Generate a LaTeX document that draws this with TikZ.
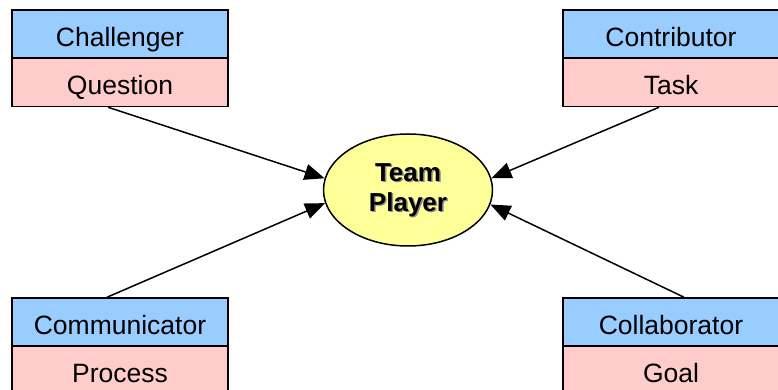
\documentclass[tikz,border=0pt]{standalone}
\usepackage{fontspec}
\setmainfont{Liberation Sans}
\usetikzlibrary{arrows.meta,shapes.geometric}
\definecolor{roleblue}{HTML}{99CCFF}
\definecolor{rolepink}{HTML}{FFCCCC}
\definecolor{playeryellow}{HTML}{FFFF99}
\tikzset{
  rolebox/.style={draw=black, line width=1.5pt, fill=roleblue, minimum width=216pt, minimum height=48pt, inner sep=0pt, text height=24.5pt, text depth=0pt, font=\fontsize{26.5}{30}\selectfont},
  itembox/.style={rolebox, fill=rolepink},
  conn/.style={line width=1.5pt, -{Triangle[length=20pt,width=16pt]}},
  playertext/.style={align=center, font=\fontsize{26}{30}\selectfont\bfseries}
}
\begin{document}
\begin{tikzpicture}[x=1pt,y=1pt]
\useasboundingbox (0,0) rectangle (778,390);
\clip (0,0) rectangle (778,390);
\fill[white] (0,0) rectangle (778,390);
% boxes
\node[rolebox] (chal) at (120,356) {Challenger};
\node[itembox] (ques) at (120,307.5) {Question};
\node[rolebox] (cont) at (671,356) {Contributor};
\node[itembox] (task) at (671,307.5) {Task};
\node[rolebox] (comm) at (120,68) {Communicator};
\node[itembox] (proc) at (120,20) {Process};
\node[rolebox] (coll) at (671,68) {Collaborator};
\node[itembox] (goal) at (671,20) {Goal};
% ellipse
\node[ellipse, draw=black, line width=1.5pt, fill=playeryellow, minimum width=169pt, minimum height=112pt, inner sep=0pt] (player) at (408,200) {};
\node[playertext, text=black!45] (playershadow) at (409.5,198.5) {Team\\Player};
\node[playertext] (playerlabel) at (408,200) {Team\\Player};
% connectors
\draw[conn] ([xshift=-12pt]ques.south) -- (player.172);
\draw[conn] ([xshift=-12pt]task.south) -- (player.8);
\draw[conn] ([xshift=-13pt]comm.north) -- (player.189);
\draw[conn] ([xshift=13pt]coll.north) -- (player.-10);
\end{tikzpicture}
\end{document}
